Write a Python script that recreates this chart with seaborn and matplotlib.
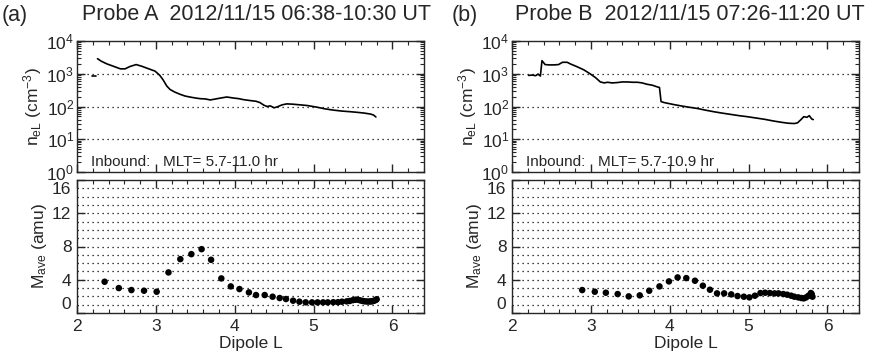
import numpy as np
import pandas as pd
import matplotlib
matplotlib.use("Agg")
import matplotlib.pyplot as plt
import seaborn as sns
from matplotlib.ticker import MultipleLocator, LogLocator, NullFormatter, FixedLocator, FixedFormatter

# ---------------- data ----------------
# Probe A electron density (L, log10 n)
A_ne_L = [2.19, 2.24,
          2.26, 2.31, 2.38, 2.46, 2.55, 2.61, 2.67, 2.75, 2.82, 2.91, 2.99, 3.05, 3.09, 3.14,
          3.18, 3.24, 3.31, 3.37, 3.43, 3.50, 3.56, 3.63, 3.69, 3.78, 3.85, 3.90, 3.98, 4.05,
          4.11, 4.20, 4.27, 4.32, 4.37, 4.41, 4.45, 4.50, 4.54, 4.60, 4.66, 4.74, 4.83, 4.92,
          5.04, 5.14, 5.25, 5.36, 5.47, 5.56, 5.64, 5.72, 5.76, 5.79]
A_ne_log = [2.93, 2.93,
            3.46, 3.38, 3.30, 3.23, 3.15, 3.15, 3.22, 3.28, 3.23, 3.15, 3.08, 2.95, 2.82, 2.62,
            2.52, 2.44, 2.37, 2.32, 2.29, 2.26, 2.24, 2.23, 2.20, 2.24, 2.27, 2.29, 2.26, 2.24,
            2.21, 2.18, 2.16, 2.12, 2.04, 2.00, 2.02, 1.96, 1.99, 2.05, 2.08, 2.07, 2.05, 2.03,
            1.98, 1.93, 1.89, 1.86, 1.84, 1.82, 1.80, 1.77, 1.74, 1.68]
A_ne_seg = [0, 0] + [1] * 52

# Probe B electron density (L, log10 n)
B_ne_L = [2.21, 2.26, 2.30, 2.33, 2.36, 2.38, 2.42, 2.47, 2.53, 2.59, 2.64, 2.70, 2.74, 2.82,
          2.91, 2.99, 3.06, 3.12, 3.17, 3.21, 3.27, 3.33, 3.40, 3.46, 3.53, 3.59, 3.65, 3.71,
          3.78, 3.84, 3.87, 3.89, 3.93, 3.97, 4.05, 4.14, 4.24, 4.35, 4.45, 4.56, 4.66, 4.77,
          4.88, 4.98, 5.09, 5.20, 5.31, 5.41, 5.50, 5.58, 5.62, 5.66, 5.70, 5.74, 5.77, 5.80, 5.82]
B_ne_log = [2.95, 2.96, 2.94, 2.99, 2.93, 3.40, 3.28, 3.27, 3.27, 3.28, 3.35, 3.35, 3.30, 3.22,
            3.12, 3.00, 2.88, 2.75, 2.72, 2.74, 2.72, 2.73, 2.75, 2.75, 2.74, 2.74, 2.72, 2.68,
            2.65, 2.60, 2.58, 2.15, 2.12, 2.10, 2.06, 2.02, 1.98, 1.94, 1.89, 1.84, 1.80, 1.76,
            1.72, 1.69, 1.65, 1.61, 1.56, 1.52, 1.49, 1.48, 1.50, 1.59, 1.69, 1.67, 1.72, 1.62, 1.60]

# Probe A average ion mass
A_m_L = [2.35, 2.53, 2.69, 2.85, 3.01, 3.16, 3.31, 3.45, 3.58, 3.70, 3.83, 3.95, 4.06, 4.18,
         4.27, 4.38, 4.48, 4.57, 4.65, 4.74, 4.82, 4.90, 4.98, 5.05, 5.12, 5.18, 5.25, 5.31,
         5.36, 5.42, 5.46, 5.50, 5.53, 5.56, 5.59, 5.62, 5.65, 5.68, 5.71, 5.73, 5.75, 5.77,
         5.79, 5.80]
A_m = [3.76, 3.0, 2.76, 2.68, 2.56, 4.88, 6.48, 7.08, 7.68, 6.4, 4.16, 3.2, 2.88, 2.48,
       2.16, 2.16, 1.96, 1.8, 1.68, 1.48, 1.36, 1.28, 1.28, 1.28, 1.28, 1.28, 1.30, 1.30,
       1.36, 1.40, 1.45, 1.55, 1.60, 1.60, 1.52, 1.45, 1.40, 1.38, 1.38, 1.40, 1.42, 1.48,
       1.58, 1.65]

# Probe B average ion mass
B_m_L = [2.89, 3.05, 3.19, 3.34, 3.48, 3.62, 3.74, 3.87, 3.99, 4.10, 4.21, 4.32, 4.42, 4.51,
         4.60, 4.69, 4.78, 4.86, 4.94, 5.01, 5.08, 5.15, 5.21, 5.27, 5.33, 5.38, 5.44, 5.49,
         5.54, 5.58, 5.63, 5.67, 5.70, 5.73, 5.76, 5.79, 5.80, 5.81]
B_m = [2.76, 2.56, 2.44, 2.28, 2.0, 2.12, 2.68, 3.2, 3.8, 4.28, 4.2, 3.88, 3.28, 2.8,
       2.36, 2.36, 2.24, 2.04, 1.96, 1.88, 2.08, 2.4, 2.44, 2.4, 2.36, 2.36, 2.28, 2.2,
       2.08, 1.96, 1.88, 1.8, 1.76, 1.88, 2.08, 2.40, 2.28, 1.96]

m_ticks = [0, 4, 8, 12, 16]
titles = ["Probe A  2012/11/15 06:38-10:30 UT", "Probe B  2012/11/15 07:26-11:20 UT"]
letters = ["(a)", "(b)"]
notes = ["Inbound:   MLT= 5.7-11.0 hr", "Inbound:   MLT= 5.7-10.9 hr"]

# ---------------- style ----------------
sns.set_style("ticks")
plt.rcParams["font.family"] = ["Liberation Sans", "DejaVu Sans"]
plt.rcParams["mathtext.default"] = "regular"
plt.rcParams["axes.linewidth"] = 1.0
plt.rcParams["xtick.direction"] = "in"
plt.rcParams["ytick.direction"] = "in"

W, H = 873, 356
fig = plt.figure(figsize=(W / 100, H / 100), dpi=100)

def frac(x0, ytop, x1, ybot):
    return [x0 / W, 1 - ybot / H, (x1 - x0) / W, (ybot - ytop) / H]

lefts = [77, 512]
FS = 12.5
dot = (0, (1, 3))

datasets = [
    (A_ne_L, A_ne_log, A_ne_seg, A_m_L, A_m),
    (B_ne_L, B_ne_log, [0] * len(B_ne_L), B_m_L, B_m),
]

for i, (nL, nlog, seg, mL, mv) in enumerate(datasets):
    x0 = lefts[i]
    x1 = x0 + 347
    axt = fig.add_axes(frac(x0, 41, x1, 172))
    axb = fig.add_axes(frac(x0, 180, x1, 313))

    dfn = pd.DataFrame({"L": nL, "n": 10 ** np.array(nlog), "seg": seg})
    sns.lineplot(data=dfn, x="L", y="n", units="seg", estimator=None, sort=False,
                 color="black", lw=1.2, ax=axt)
    axt.set_yscale("log")
    axt.set_ylim(1, 1e4)
    axt.set_xlim(2, 6.4)
    for v in [10, 100, 1000]:
        axt.axhline(v, color="black", lw=0.9, ls=dot, zorder=0)
    axt.yaxis.set_major_locator(LogLocator(base=10, numticks=10))
    axt.yaxis.set_minor_locator(LogLocator(base=10, subs=np.arange(2, 10), numticks=20))
    axt.yaxis.set_minor_formatter(NullFormatter())
    axt.xaxis.set_major_locator(MultipleLocator(1))
    axt.xaxis.set_minor_locator(MultipleLocator(0.2))
    axt.tick_params(axis="both", which="both", top=True, right=True, labelsize=FS)
    axt.tick_params(which="major", length=6, width=1)
    axt.tick_params(which="minor", length=3, width=0.8)
    axt.tick_params(axis="x", labelbottom=False)
    axt.tick_params(axis="y", pad=2)
    axt.set_xlabel("")
    axt.set_ylabel("n$_{eL}$ (cm$^{-3}$)", fontsize=FS, labelpad=2)
    axt.text(0.04, 0.08, notes[i], transform=axt.transAxes, fontsize=11,
             ha="left", va="center")

    dfm = pd.DataFrame({"L": mL, "M": mv})
    sns.scatterplot(data=dfm, x="L", y="M", color="black", s=22, edgecolor="none",
                    ax=axb, zorder=3)
    axb.set_xlim(2, 6.4)
    axb.set_ylim(m_ticks[0], m_ticks[-1])
    for v in range(1, 16):
        axb.axhline(v, color="black", lw=0.9, ls=dot, zorder=0)
    axb.yaxis.set_major_locator(FixedLocator(m_ticks))
    # end labels are placed inside the axis range (as in the reference)
    axb.yaxis.set_major_formatter(FixedFormatter([""] + [str(t) for t in m_ticks[1:-1]] + [""]))
    axb.xaxis.set_major_locator(MultipleLocator(1))
    axb.xaxis.set_minor_locator(MultipleLocator(0.2))
    axb.tick_params(axis="both", which="both", top=True, right=True, labelsize=FS)
    axb.tick_params(which="major", length=6, width=1)
    axb.tick_params(which="minor", length=3, width=0.8)
    axb.tick_params(axis="x", pad=4)
    axb.tick_params(axis="y", pad=4)
    axb.set_xlabel("Dipole L", fontsize=FS, labelpad=2)
    axb.set_ylabel("M$_{ave}$ (amu)", fontsize=FS, labelpad=2)
    axb.text(-0.018, 0.065, str(m_ticks[0]), transform=axb.transAxes, fontsize=FS,
             ha="right", va="center")
    axb.text(-0.018, 0.93, str(m_ticks[-1]), transform=axb.transAxes, fontsize=FS,
             ha="right", va="center")

    fig.text((2 if i == 0 else 452) / W, 1 - 15 / H, letters[i], fontsize=15.5,
             ha="left", va="center")
    fig.text((82 if i == 0 else 515) / W, 1 - 15 / H, titles[i], fontsize=15.5,
             ha="left", va="center")

fig.savefig("out.png", dpi=100)
